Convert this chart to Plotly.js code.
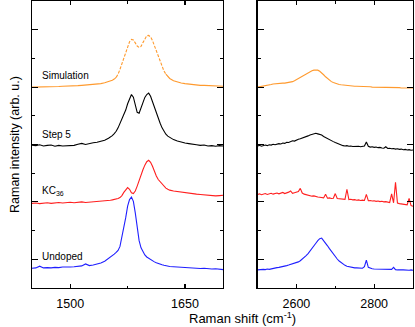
<!DOCTYPE html>
<html>
<head>
<meta charset="utf-8">
<script src="https://cdn.plot.ly/plotly-3.0.1.min.js"></script>
<style>
  html, body { margin: 0; padding: 0; background: #fff; }
  #chart { width: 415px; height: 327px; }
</style>
</head>
<body>
<div id="chart"></div>
<script>
/* -------------------- DATA -------------------- */

// G band region (cm-1)
const shiftG = [
  1450, 1455, 1460, 1465, 1470, 1475, 1480, 1485, 1490, 1495, 1500, 1505, 1510, 1515, 1520, 1525, 1530, 1535, 1540, 1545, 1550,
  1552.5, 1555, 1557.5, 1560, 1562.5, 1565, 1567.5, 1570, 1572.5, 1575, 1577.5, 1580, 1582.5, 1585, 1587.5, 1590, 1592.5, 1595, 1597.5,
  1600, 1602.5, 1605, 1607.5, 1610, 1612.5, 1615, 1617.5, 1620, 1622.5, 1625, 1627.5, 1630,
  1635, 1640, 1645, 1650, 1655, 1660, 1665, 1670, 1675, 1680, 1685, 1690, 1695, 1700
];

const undopedG = [
  0.69, 0.70, 0.76, 0.70, 0.71, 0.70, 0.72, 0.71, 0.73, 0.72, 0.73, 0.74, 0.75, 0.77, 0.84, 0.78, 0.80, 0.83, 0.87, 0.93, 1.02,
  1.08, 1.13, 1.18, 1.24, 1.31, 1.45, 1.75, 2.05, 2.45, 2.85, 3.08, 3.17, 3.02, 2.62, 2.12, 1.65, 1.40, 1.25, 1.15,
  1.08, 1.03, 0.98, 0.94, 0.91, 0.88, 0.85, 0.83, 0.81, 0.79, 0.77, 0.76, 0.75,
  0.74, 0.73, 0.72, 0.72, 0.71, 0.70, 0.69, 0.68, 0.69, 0.67, 0.66, 0.67, 0.65, 0.64
];

const kc36G = [
  2.95, 2.96, 2.94, 2.95, 2.97, 2.95, 2.96, 2.98, 2.96, 2.97, 2.99, 2.97, 2.98, 3.00, 2.98, 2.99, 3.01, 3.00, 3.02, 3.03, 3.05,
  3.06, 3.07, 3.08, 3.10, 3.12, 3.15, 3.22, 3.33, 3.44, 3.50, 3.44, 3.32, 3.29, 3.38, 3.55, 3.76, 3.95, 4.12, 4.28,
  4.40, 4.45, 4.38, 4.24, 4.05, 3.90, 3.78, 3.70, 3.66, 3.58, 3.48, 3.44, 3.41,
  3.38, 3.36, 3.33, 3.31, 3.30, 3.28, 3.27, 3.26, 3.25, 3.22, 3.23, 3.21, 3.22, 3.23
];

const step5G = [
  4.98, 4.96, 4.99, 4.95, 4.97, 4.98, 4.94, 4.97, 4.95, 4.96, 4.98, 4.97, 5.01, 5.04, 5.00, 5.04, 5.06, 5.08, 5.11, 5.15, 5.22,
  5.26, 5.31, 5.38, 5.46, 5.58, 5.72, 5.86, 6.00, 6.20, 6.42, 6.62, 6.74, 6.65, 6.38, 6.12, 6.09, 6.28, 6.50, 6.64,
  6.74, 6.79, 6.68, 6.48, 6.26, 6.06, 5.90, 5.74, 5.58, 5.46, 5.36, 5.29, 5.24,
  5.17, 5.12, 5.08, 5.05, 5.03, 5.00, 4.99, 4.97, 4.98, 4.95, 4.96, 4.94, 4.96, 4.95
];

const simG = [
  7.00, 7.00, 7.00, 7.01, 7.01, 7.01, 7.02, 7.02, 7.03, 7.03, 7.04, 7.04, 7.05, 7.06, 7.07, 7.08, 7.09, 7.10, 7.12, 7.15, 7.19,
  7.21, 7.24, 7.28, 7.34, 7.45, 7.62, 7.82, 8.05, 8.25, 8.42, 8.58, 8.66, 8.64, 8.54, 8.43, 8.38, 8.42, 8.55, 8.70,
  8.79, 8.80, 8.75, 8.62, 8.44, 8.24, 8.04, 7.86, 7.70, 7.56, 7.45, 7.37, 7.30,
  7.22, 7.17, 7.14, 7.12, 7.10, 7.08, 7.07, 7.06, 7.06, 7.05, 7.05, 7.04, 7.04, 7.03
];

// 2D band region (cm-1)
const shift2D = [
  2500, 2505, 2510, 2515, 2520, 2525, 2530, 2535, 2540, 2545, 2550, 2555, 2560, 2565, 2570, 2575, 2580, 2585, 2590, 2595, 2600,
  2605, 2610, 2615, 2620, 2625, 2630, 2635, 2640, 2645, 2650, 2655, 2660, 2665, 2670, 2675, 2680, 2685, 2690, 2695, 2700,
  2705, 2710, 2715, 2720, 2725, 2730, 2735, 2740, 2745, 2750, 2755, 2760, 2765, 2770, 2775, 2780, 2785, 2790, 2795, 2800,
  2805, 2810, 2815, 2820, 2825, 2830, 2835, 2840, 2845, 2850, 2855, 2860, 2865, 2870, 2875, 2880, 2885, 2890, 2895, 2900
];

const undoped2D = [
  0.63, 0.64, 0.63, 0.65, 0.64, 0.66, 0.65, 0.67, 0.68, 0.69, 0.71, 0.72, 0.73, 0.75, 0.76, 0.78, 0.80, 0.82, 0.84, 0.86, 0.88,
  0.91, 0.95, 1.00, 1.06, 1.13, 1.20, 1.28, 1.37, 1.46, 1.56, 1.65, 1.72, 1.74, 1.66, 1.58, 1.47, 1.37, 1.27, 1.18, 1.09,
  1.01, 0.94, 0.88, 0.83, 0.79, 0.76, 0.74, 0.72, 0.71, 0.70, 0.70, 0.69, 0.68, 0.69, 0.74, 0.97, 0.72, 0.68, 0.67, 0.66,
  0.66, 0.65, 0.66, 0.65, 0.64, 0.65, 0.64, 0.64, 0.65, 0.72, 0.64, 0.63, 0.64, 0.63, 0.63, 0.62, 0.63, 0.62, 0.63, 0.62
];

const kc362D = [
  3.26, 3.28, 3.25, 3.27, 3.29, 3.26, 3.28, 3.30, 3.27, 3.29, 3.31, 3.28, 3.30, 3.33, 3.29, 3.31, 3.34, 3.38, 3.30, 3.32, 3.33,
  3.36, 3.47, 3.31, 3.27, 3.25, 3.23, 3.22, 3.20, 3.21, 3.18, 3.17, 3.16, 3.15, 3.14, 3.27, 3.13, 3.14, 3.12, 3.13, 3.29,
  3.12, 3.11, 3.10, 3.11, 3.09, 3.44, 3.08, 3.09, 3.07, 3.08, 3.06, 3.07, 3.05, 3.06, 3.05, 3.26, 3.04, 3.05, 3.03, 3.04,
  3.02, 3.03, 3.01, 3.02, 3.00, 3.01, 2.99, 2.98, 3.28, 2.97, 3.68, 2.96, 2.94, 2.93, 2.92, 2.91, 2.90, 3.12, 2.87, 2.85
];

const step52D = [
  4.95, 4.97, 4.94, 4.97, 4.98, 4.96, 4.99, 4.98, 5.01, 4.99, 5.01, 5.03, 5.02, 5.05, 5.04, 5.08, 5.07, 5.11, 5.13, 5.12, 5.16,
  5.18, 5.20, 5.22, 5.24, 5.27, 5.30, 5.33, 5.35, 5.38, 5.39, 5.37, 5.35, 5.33, 5.28, 5.24, 5.20, 5.16, 5.12, 5.10, 5.07,
  5.04, 5.01, 4.98, 4.96, 4.95, 4.96, 4.94, 4.95, 4.93, 4.94, 4.93, 4.94, 4.92, 4.93, 4.95, 5.09, 4.94, 4.91, 4.92, 4.90,
  4.91, 4.89, 4.90, 4.88, 4.87, 4.92, 4.86, 4.87, 4.85, 4.86, 4.84, 4.85, 4.83, 4.84, 4.82, 4.83, 4.81, 4.82, 4.80, 4.81
];

const sim2D = [
  7.00, 7.01, 7.02, 7.03, 7.04, 7.05, 7.07, 7.09, 7.11, 7.12, 7.13, 7.13, 7.14, 7.14, 7.14, 7.15, 7.16, 7.17, 7.19, 7.22, 7.26,
  7.30, 7.34, 7.38, 7.42, 7.46, 7.50, 7.54, 7.57, 7.59, 7.60, 7.59, 7.55, 7.50, 7.43, 7.36, 7.30, 7.24, 7.19, 7.16, 7.13,
  7.11, 7.09, 7.08, 7.07, 7.06, 7.05, 7.05, 7.04, 7.04, 7.03, 7.03, 7.03, 7.02, 7.02, 7.02, 7.01, 7.01, 7.01, 7.00, 7.00,
  7.00, 7.00, 6.99, 6.99, 6.99, 6.99, 6.99, 6.98, 6.98, 6.98, 6.98, 6.98, 6.98, 6.97, 6.97, 6.97, 6.97, 6.97, 6.97, 6.97
];

const sampleNames = ['Undoped', 'KC<sub>36</sub>', 'Step 5', 'Simulation'];
const sampleColors = ['#1f1fff', '#ff1f1f', '#000000', '#ff9a2e'];
const labelX = [1461, 1461, 1461, 1461];
const labelY = [1.11, 3.38, 5.36, 7.41];

/* -------------------- PLOT -------------------- */

const FONT = 'Liberation Sans, Arial, sans-serif';

function line(x, y, color, xa, ya, dash) {
  return {
    x, y, xaxis: xa, yaxis: ya, type: 'scatter', mode: 'lines',
    line: { color, width: 1.1, dash: dash || 'solid' },
    hoverinfo: 'skip', showlegend: false
  };
}

// the simulated G band is dashed across the peaks
function splitSim(x, y, lo, hi) {
  const a = [], b = [], c = [];
  x.forEach((v, i) => {
    if (v <= lo) a.push(i);
    if (v >= lo && v <= hi) b.push(i);
    if (v >= hi) c.push(i);
  });
  const pick = idx => [idx.map(i => x[i]), idx.map(i => y[i])];
  return [pick(a), pick(b), pick(c)];
}

const gSets = [undopedG, kc36G, step5G];
const dSets = [undoped2D, kc362D, step52D];

const traces = [];
gSets.forEach((y, i) => traces.push(line(shiftG, y, sampleColors[i], 'x', 'y')));
dSets.forEach((y, i) => traces.push(line(shift2D, y, sampleColors[i], 'x2', 'y2')));

const simParts = splitSim(shiftG, simG, 1560, 1625);
traces.push(line(simParts[0][0], simParts[0][1], sampleColors[3], 'x', 'y'));
traces.push(line(simParts[1][0], simParts[1][1], sampleColors[3], 'x', 'y', '3px,1.5px'));
traces.push(line(simParts[2][0], simParts[2][1], sampleColors[3], 'x', 'y'));
traces.push(line(shift2D, sim2D, sampleColors[3], 'x2', 'y2'));

const xCommon = {
  showline: true, linecolor: '#000', linewidth: 1.2, mirror: 'ticks',
  ticks: 'inside', ticklen: 4, tickwidth: 1.1, tickcolor: '#000',
  ticklabelstandoff: 4,
  showgrid: false, zeroline: false,
  tickfont: { family: FONT, size: 12.5, color: '#000' }
};
const yCommon = {
  range: [0, 10], showline: true, linecolor: '#000', linewidth: 1.2, mirror: 'ticks',
  ticks: 'inside', ticklen: 6, tickwidth: 1.1, tickcolor: '#000',
  tick0: 1, dtick: 2, showticklabels: false, showgrid: false, zeroline: false,
  minor: { ticks: 'inside', ticklen: 3, tickwidth: 1.1, tickcolor: '#000', dtick: 1, tick0: 0, showgrid: false }
};

const annotations = sampleNames.map((t, i) => ({
  x: labelX[i], y: labelY[i], xref: 'x', yref: 'y', text: t, showarrow: false,
  xanchor: 'left', yanchor: 'middle', font: { family: FONT, size: 10, color: '#000' }
}));

annotations.push({
  x: 0.552, y: -0.105, xref: 'paper', yref: 'paper', showarrow: false,
  text: 'Raman shift (cm<sup>-1</sup>)', xanchor: 'center', yanchor: 'middle',
  font: { family: FONT, size: 13, color: '#000' }
});
annotations.push({
  x: -0.046, y: 0.5, xref: 'paper', yref: 'paper', showarrow: false, textangle: -90,
  text: 'Raman intensity (arb. u.)', xanchor: 'center', yanchor: 'middle',
  font: { family: FONT, size: 12.5, color: '#000' }
});

const layout = {
  width: 415, height: 327,
  margin: { l: 31.5, r: 2, t: 1, b: 39, pad: 0 },
  paper_bgcolor: '#fff', plot_bgcolor: '#fff',
  showlegend: false,
  xaxis: Object.assign({}, xCommon, {
    domain: [0, 0.502], range: [1450, 1700], anchor: 'y', tick0: 1500, dtick: 150,
    minor: { ticks: 'inside', ticklen: 2.5, tickwidth: 1.1, tickcolor: '#000', dtick: 75, tick0: 1500, showgrid: false }
  }),
  xaxis2: Object.assign({}, xCommon, {
    domain: [0.592, 1], range: [2500, 2900], anchor: 'y2', tick0: 2600, dtick: 200,
    minor: { ticks: 'inside', ticklen: 2.5, tickwidth: 1.1, tickcolor: '#000', dtick: 100, tick0: 2600, showgrid: false }
  }),
  yaxis: Object.assign({}, yCommon, { anchor: 'x' }),
  yaxis2: Object.assign({}, yCommon, { anchor: 'x2', matches: 'y' }),
  annotations
};

Plotly.newPlot('chart', traces, layout, { displayModeBar: false, staticPlot: true });
</script>
</body>
</html>
